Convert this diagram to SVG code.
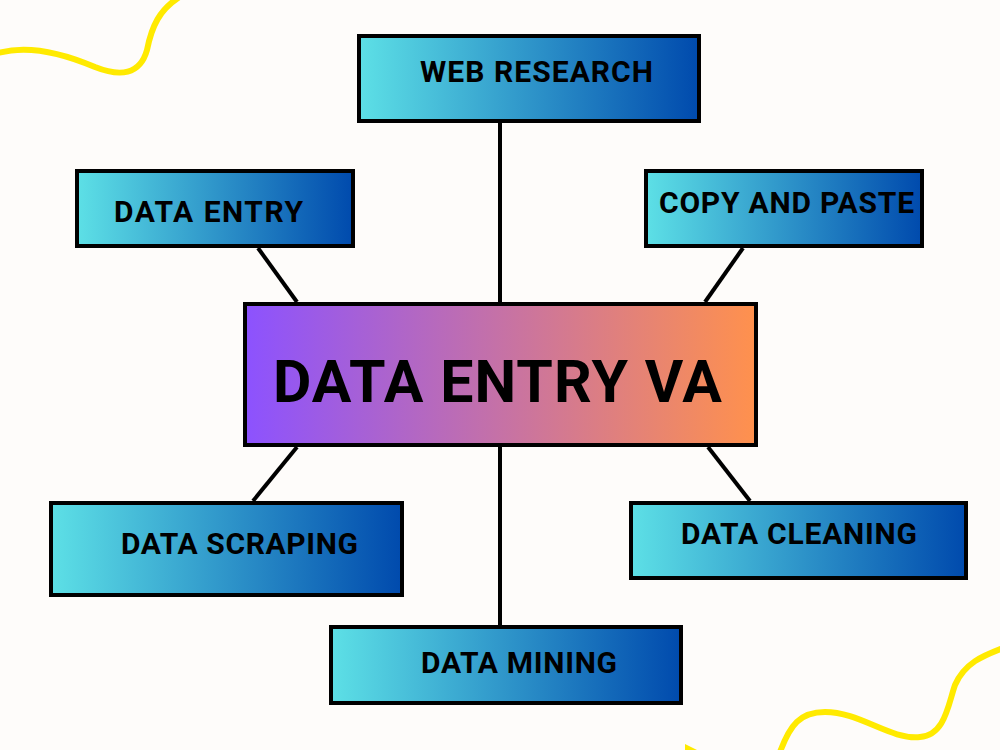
<svg xmlns="http://www.w3.org/2000/svg" width="1000" height="750" viewBox="0 0 1000 750">
  <defs>
    <linearGradient id="blue" x1="0" y1="0" x2="1" y2="0">
      <stop offset="0" stop-color="#5de0e6"/>
      <stop offset="1" stop-color="#004aad"/>
    </linearGradient>
    <linearGradient id="warm" x1="0" y1="0" x2="1" y2="0">
      <stop offset="0" stop-color="#8c52ff"/>
      <stop offset="1" stop-color="#ff914d"/>
    </linearGradient>
    <style>
      .box { fill: url(#blue); stroke: #000; stroke-width: 4; }
      .center { fill: url(#warm); stroke: #000; stroke-width: 4; }
      .lbl { font-family: Roboto, "Liberation Sans", sans-serif; font-weight: 700; font-size: 30px; fill: #000; }
      .big { font-family: Roboto, "Liberation Sans", sans-serif; font-weight: 700; font-size: 59px; fill: #000; }
      .conn line { stroke: #000; stroke-width: 4; }
      .squiggle { fill: none; stroke: #ffea00; stroke-width: 6; stroke-linecap: round; }
    </style>
  </defs>
  <rect x="0" y="0" width="1000" height="750" fill="#fefcfa"/>

  <g id="decor">
    <path class="squiggle" d="M -5,54 C 25,44 60,52 95,67 C 120,77 140,75 147,50 C 152,25 160,10 178,-2"/>
    <path class="squiggle" d="M 780,752 C 790,725 800,712 825,712 C 860,712 890,740 920,737 C 945,735 948,705 955,685 C 965,662 985,655 1003,648"/>
    <path d="M 685,744 L 697,750 L 685,750 Z" fill="#ffea00"/>
  </g>

  <g id="connectors" class="conn">
    <line x1="500" y1="122" x2="500" y2="302"/>
    <line x1="500" y1="447" x2="500" y2="625"/>
    <line x1="258" y1="248" x2="297" y2="302"/>
    <line x1="743" y1="248" x2="705" y2="302"/>
    <line x1="297" y1="447" x2="253" y2="501"/>
    <line x1="708" y1="447" x2="750" y2="501"/>
  </g>

  <g id="web-research">
    <rect class="box" x="359" y="36" width="340" height="85"/>
    <text class="lbl" x="420" y="82" textLength="233" lengthAdjust="spacing">WEB RESEARCH</text>
  </g>

  <g id="data-entry">
    <rect class="box" x="77" y="171" width="276" height="75"/>
    <text class="lbl" x="114" y="222" textLength="189" lengthAdjust="spacing">DATA ENTRY</text>
  </g>

  <g id="copy-and-paste">
    <rect class="box" x="646" y="171" width="276" height="75"/>
    <text class="lbl" x="659" y="213" textLength="255" lengthAdjust="spacing">COPY AND PASTE</text>
  </g>

  <g id="data-entry-va">
    <rect class="center" x="245" y="304" width="511" height="141"/>
    <text class="big" x="273" y="402" textLength="449" lengthAdjust="spacing">DATA ENTRY VA</text>
  </g>

  <g id="data-scraping">
    <rect class="box" x="51" y="503" width="351" height="92"/>
    <text class="lbl" x="121" y="554" textLength="237" lengthAdjust="spacing">DATA SCRAPING</text>
  </g>

  <g id="data-cleaning">
    <rect class="box" x="631" y="503" width="335" height="75"/>
    <text class="lbl" x="681" y="544" textLength="236" lengthAdjust="spacing">DATA CLEANING</text>
  </g>

  <g id="data-mining">
    <rect class="box" x="331" y="627" width="350" height="76"/>
    <text class="lbl" x="421" y="673" textLength="196" lengthAdjust="spacing">DATA MINING</text>
  </g>
</svg>
